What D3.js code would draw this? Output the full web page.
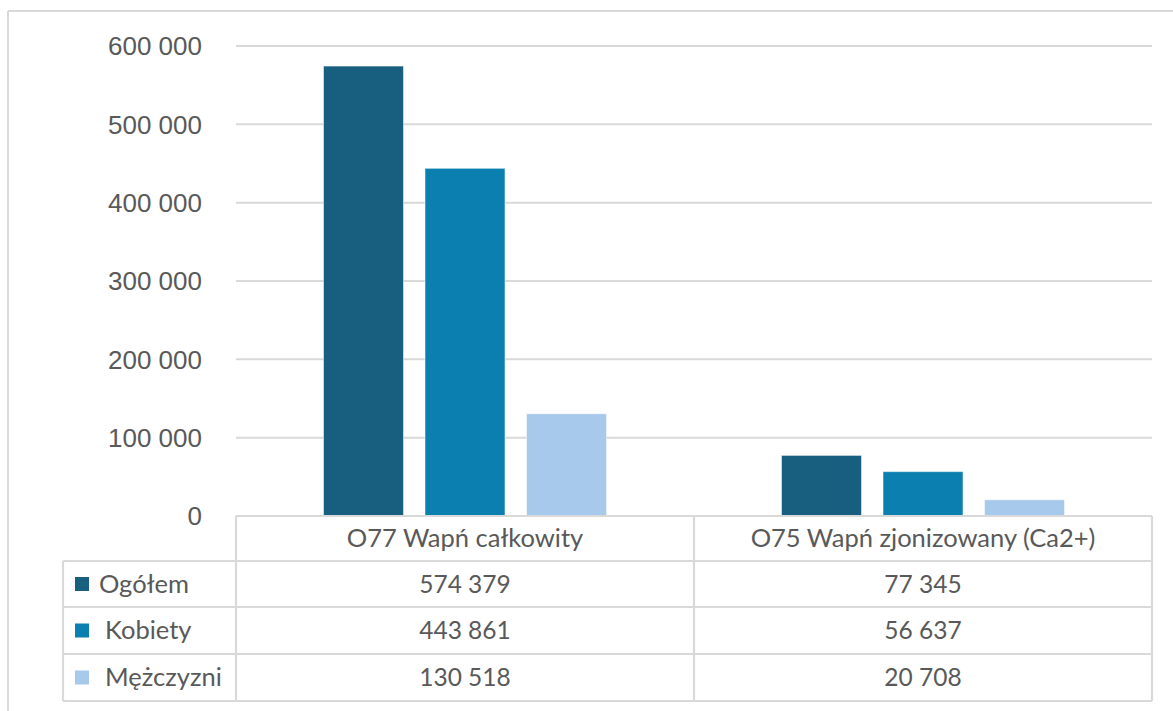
<!DOCTYPE html>
<html>
<head>
<meta charset="utf-8">
<script src="https://cdn.jsdelivr.net/npm/d3@7"></script>
<style>
  html, body { margin: 0; padding: 0; background: #fff; }
  svg { display: block; }
</style>
</head>
<body>
<svg id="chart" width="1173" height="711"></svg>
<script>
const categories = ["O77 Wapń całkowity", "O75 Wapń zjonizowany (Ca2+)"];
const seriesNames = ["Ogółem", "Kobiety", "Mężczyzni"];
const seriesColors = ["#175e7f", "#0b80b0", "#a7caec"];
const ogolem = [574379, 77345];
const kobiety = [443861, 56637];
const mezczyzni = [130518, 20708];
const yTicks = [0, 100000, 200000, 300000, 400000, 500000, 600000];

const seriesValues = [ogolem, kobiety, mezczyzni];

const svg = d3.select("#chart");
const W = 1173, H = 711;
const plotL = 236, plotR = 1152, plotT = 46, plotB = 516;
const gridColor = "#d9d9d9";
const textColor = "#595959";

// outer frame (top and left visible)
svg.append("line").attr("x1", 8).attr("x2", W).attr("y1", 11).attr("y2", 11)
  .attr("stroke", gridColor).attr("stroke-width", 2);
svg.append("line").attr("x1", 8).attr("x2", 8).attr("y1", 11).attr("y2", H)
  .attr("stroke", gridColor).attr("stroke-width", 2);

const x0 = d3.scaleBand().domain(categories).range([plotL, plotR]).paddingInner(0).paddingOuter(0);
const groupW = 283;
const x1 = d3.scaleBand().domain(seriesNames)
  .range([(x0.bandwidth() - groupW) / 2, (x0.bandwidth() + groupW) / 2])
  .paddingInner(0.212).paddingOuter(0);
const y = d3.scaleLinear().domain([0, 600000]).range([plotB, plotT]);

// gridlines
const fmt = v => d3.format(",")(v).replace(/,/g, " ");
svg.append("g").selectAll("line").data(yTicks.filter(t => t > 0)).join("line")
  .attr("x1", plotL).attr("x2", plotR)
  .attr("y1", d => y(d)).attr("y2", d => y(d))
  .attr("stroke", gridColor).attr("stroke-width", 2);

// y axis labels
const yAxis = d3.axisLeft(y).tickValues(yTicks).tickFormat(fmt).tickSize(0).tickPadding(0);
const ya = svg.append("g").attr("transform", `translate(202,0)`).call(yAxis);
ya.select(".domain").remove();
ya.selectAll("text").attr("fill", textColor)
  .style("font-family", "'Liberation Sans', Arial, sans-serif")
  .style("font-size", "26px").attr("dy", "0.34em");

// bars
const groups = svg.append("g").selectAll("g").data(categories).join("g")
  .attr("transform", d => `translate(${x0(d)},0)`);
groups.selectAll("rect").data((c, ci) => seriesNames.map((s, si) => ({ s, si, v: seriesValues[si][ci] })))
  .join("rect")
  .attr("x", d => x1(d.s)).attr("width", x1.bandwidth())
  .attr("y", d => y(d.v)).attr("height", d => plotB - y(d.v))
  .attr("fill", (d) => seriesColors[d.si])
  .attr("stroke", "#ffffff").attr("stroke-opacity", 0.5).attr("stroke-width", 1);

// data table
const rowTop = [516, 561, 607, 654, 701];
const legL = 63;
const tableFont = "Lato, 'Noto Sans', sans-serif";
const tbl = svg.append("g");
const lineAttr = sel => sel.attr("stroke", gridColor).attr("stroke-width", 2.2).attr("fill", "none");

// horizontal lines
tbl.append("line").attr("x1", plotL).attr("x2", plotR).attr("y1", rowTop[0]).attr("y2", rowTop[0]).call(lineAttr);
for (let i = 1; i < rowTop.length; i++) {
  tbl.append("line").attr("x1", legL).attr("x2", plotR).attr("y1", rowTop[i]).attr("y2", rowTop[i]).call(lineAttr);
}
// vertical lines
tbl.append("line").attr("x1", legL).attr("x2", legL).attr("y1", rowTop[1]).attr("y2", rowTop[4]).call(lineAttr);
[plotL, plotL + x0.bandwidth(), plotR].forEach(xx => {
  tbl.append("line").attr("x1", xx).attr("x2", xx).attr("y1", rowTop[0]).attr("y2", rowTop[4]).call(lineAttr);
});

// header text
tbl.selectAll("text.hdr").data(categories).join("text").attr("class", "hdr")
  .attr("x", d => x0(d) + x0.bandwidth() / 2)
  .attr("y", (rowTop[0] + rowTop[1]) / 2)
  .attr("dy", "0.35em").attr("text-anchor", "middle")
  .attr("fill", textColor).style("font-family", tableFont).style("font-size", "25.5px")
  .text(d => d);

// rows
seriesNames.forEach((s, si) => {
  const cy = (rowTop[si + 1] + rowTop[si + 2]) / 2;
  tbl.append("rect").attr("x", 75).attr("y", cy - 7).attr("width", 14).attr("height", 14)
    .attr("fill", seriesColors[si]);
  tbl.append("text").attr("x", si === 0 ? 99 : 105).attr("y", cy).attr("dy", "0.35em")
    .attr("fill", textColor).style("font-family", tableFont).style("font-size", "25.5px")
    .text(s);
  categories.forEach((c, ci) => {
    tbl.append("text").attr("x", x0(c) + x0.bandwidth() / 2).attr("y", cy).attr("dy", "0.35em")
      .attr("text-anchor", "middle")
      .attr("fill", textColor).style("font-family", tableFont).style("font-size", "24.5px")
      .text(fmt(seriesValues[si][ci]));
  });
});
</script>
</body>
</html>
